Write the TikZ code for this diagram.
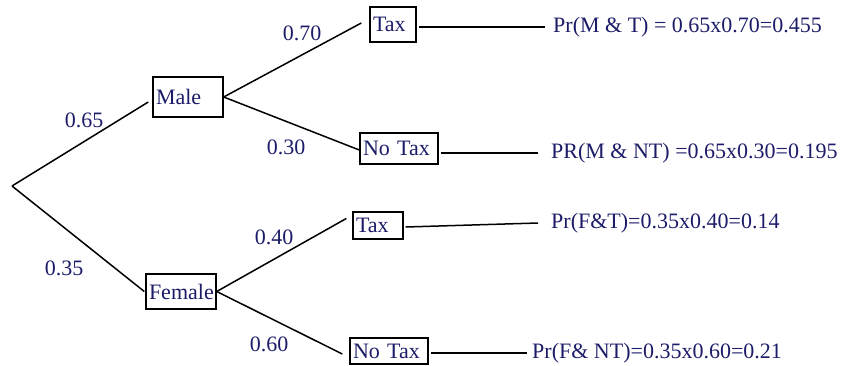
\documentclass[tikz,border=0pt]{standalone}
\usepackage{fontspec}
\setmainfont{Liberation Serif}
\definecolor{navytext}{RGB}{28,28,105}
\tikzset{
  bigfont/.style={font=\fontsize{22}{26}\selectfont},
  choicebox/.style={draw, line width=1.4pt, bigfont, text=navytext, align=left, inner xsep=3pt, inner ysep=0pt},
  problabel/.style={bigfont, text=navytext, inner sep=0pt},
  result/.style={bigfont, text=navytext, inner sep=0pt, anchor=west},
  branch/.style={line width=1.5pt, black},
}
\begin{document}
\begin{tikzpicture}[x=1pt,y=-1pt]
\useasboundingbox (0,0) rectangle (845,366);
\coordinate (root) at (12,186);
% boxes
\node[choicebox, text width=64pt, minimum height=40pt] (male) at (188,97) {Male};
\node[choicebox, text width=40pt, minimum height=35pt] (tax1) at (393,24.5) {Tax};
\node[choicebox, text width=72pt, minimum height=31pt] (notax1) at (399,148.5) {No Tax};
\node[choicebox, text width=64pt, minimum height=35pt] (female) at (181,291.5) {Female};
\node[choicebox, text width=44pt, minimum height=27pt] (tax2) at (378,225.5) {Tax};
\node[choicebox, text width=72pt, minimum height=26pt] (notax2) at (389,351) {No Tax};
% results
\node[result] (p1) at (553,27) {Pr(M \& T) = 0.65x0.70=0.455};
\node[result] (p2) at (551,153) {PR(M \& NT) =0.65x0.30=0.195};
\node[result] (p3) at (551,223) {Pr(F\&T)=0.35x0.40=0.14};
\node[result] (p4) at (532,353) {Pr(F\& NT)=0.35x0.60=0.21};
% probability labels
\node[problabel] (l65) at (84,120) {0.65};
\node[problabel] (l70) at (302,33) {0.70};
\node[problabel] (l30) at (286,147) {0.30};
\node[problabel] (l35) at (64,268) {0.35};
\node[problabel] (l40) at (274,237) {0.40};
\node[problabel] (l60) at (269,344) {0.60};
% branches
\draw[branch] (root) -- ([shift={(-4,5)}]male.west);
\draw[branch] (root) -- ([xshift=-1pt]female.west);
\draw[branch] (male.east) -- ([shift={(-8,-1.5)}]tax1.west);
\draw[branch] (male.east) -- ([shift={(0,1.5)}]notax1.west);
\draw[branch] (female.east) -- ([shift={(-6,-7)}]tax2.west);
\draw[branch] (female.east) -- ([shift={(-7,3)}]notax2.west);
% result lines
\draw[branch] ([shift={(2,2.5)}]tax1.east) -- ([xshift=-8]p1.west);
\draw[branch] ([shift={(2,4.5)}]notax1.east) -- ([xshift=-13]p2.west);
\draw[branch] ([shift={(2,1.5)}]tax2.east) -- ([xshift=-13]p3.west);
\draw[branch] ([shift={(2,2)}]notax2.east) -- ([xshift=-5]p4.west);
\end{tikzpicture}
\end{document}
